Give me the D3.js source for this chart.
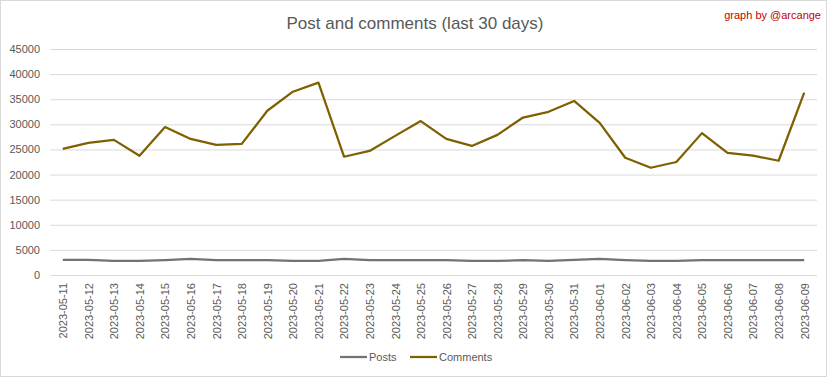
<!DOCTYPE html>
<html lang="en">
<head>
    <meta charset="UTF-8">
    <title>Post and comments (last 30 days)</title>
    <style>
        body { margin: 0; background: #fff; }
        text { font-family: "Liberation Sans", Arial, sans-serif; }
    </style>
</head>
<body>
    <svg id="chart" width="832" height="378"></svg>

    <script src="https://d3js.org/d3.v7.min.js"></script>
    <script>
        // Data
        const dates = ["2023-05-11", "2023-05-12", "2023-05-13", "2023-05-14", "2023-05-15", "2023-05-16",
            "2023-05-17", "2023-05-18", "2023-05-19", "2023-05-20", "2023-05-21", "2023-05-22",
            "2023-05-23", "2023-05-24", "2023-05-25", "2023-05-26", "2023-05-27", "2023-05-28",
            "2023-05-29", "2023-05-30", "2023-05-31", "2023-06-01", "2023-06-02", "2023-06-03",
            "2023-06-04", "2023-06-05", "2023-06-06", "2023-06-07", "2023-06-08", "2023-06-09"];

        const posts = [3000, 3000, 2800, 2800, 2950, 3200, 2950, 2950, 2950, 2800,
            2800, 3200, 2950, 2950, 2950, 2950, 2800, 2800, 2950, 2800,
            3000, 3200, 2950, 2800, 2800, 2950, 2950, 2950, 2950, 2950];

        const comments = [25100, 26300, 26900, 23750, 29450, 27100, 25900, 26100, 32700, 36500,
            38300, 23550, 24700, 27700, 30650, 27100, 25700, 27900, 31350, 32500,
            34650, 30300, 23350, 21350, 22500, 28250, 24300, 23750, 22750, 36300];

        const yTicks = [0, 5000, 10000, 15000, 20000, 25000, 30000, 35000, 40000, 45000];

        const series = [
            { name: "Posts", values: posts, color: "#767171" },
            { name: "Comments", values: comments, color: "#7f6000" }
        ];

        const svg = d3.select("#chart");

        // Outer frame
        svg.append("rect")
            .attr("x", 0.5).attr("y", 0.5)
            .attr("width", 826).attr("height", 376)
            .attr("fill", "#fff")
            .attr("stroke", "#d9d9d9");

        const x = d3.scalePoint()
            .domain(dates)
            .range([50, 817])
            .padding(0.5);

        const y = d3.scaleLinear()
            .domain([0, 45000])
            .range([275, 49]);

        // Gridlines + y labels
        const yAxis = svg.append("g")
            .attr("transform", "translate(50,0)")
            .call(d3.axisLeft(y).tickValues(yTicks).tickSize(-767).tickPadding(10).tickFormat(d3.format("d")));
        yAxis.select(".domain").remove();
        yAxis.selectAll(".tick line").attr("stroke", "#d9d9d9");
        yAxis.selectAll(".tick text")
            .attr("fill", "#595959")
            .style("font-size", "11px");

        // x labels (rotated)
        const xAxis = svg.append("g")
            .attr("transform", "translate(0,275)")
            .call(d3.axisBottom(x).tickSize(0));
        xAxis.select(".domain").remove();
        xAxis.selectAll(".tick text")
            .attr("fill", "#595959")
            .style("font-size", "11px")
            .attr("text-anchor", "end")
            .attr("transform", "rotate(-90)")
            .attr("x", -8)
            .attr("y", 0)
            .attr("dy", "0.35em");

        // Lines
        const line = d3.line()
            .x((d, i) => x(dates[i]))
            .y(d => y(d));

        svg.selectAll(".series")
            .data(series)
            .join("path")
            .attr("class", "series")
            .attr("d", d => line(d.values))
            .attr("fill", "none")
            .attr("stroke", d => d.color)
            .attr("stroke-width", 2.25)
            .attr("stroke-linejoin", "round");

        // Title
        svg.append("text")
            .attr("x", 415)
            .attr("y", 29)
            .attr("text-anchor", "middle")
            .attr("fill", "#595959")
            .style("font-size", "17px")
            .text("Post and comments (last 30 days)");

        svg.append("text")
            .attr("x", 821)
            .attr("y", 19)
            .attr("text-anchor", "end")
            .attr("fill", "#c00000")
            .style("font-size", "11px")
            .text("graph by @arcange");

        // Legend
        const legendX = [340, 410];
        const legend = svg.selectAll(".legend")
            .data(series)
            .join("g")
            .attr("class", "legend")
            .attr("transform", (d, i) => `translate(${legendX[i]},357)`);

        legend.append("line")
            .attr("x1", 0).attr("x2", 27)
            .attr("stroke", d => d.color)
            .attr("stroke-width", 2.25);

        legend.append("text")
            .attr("x", 29)
            .attr("dy", "0.35em")
            .attr("fill", "#595959")
            .style("font-size", "11px")
            .text(d => d.name);
    </script>
</body>
</html>
